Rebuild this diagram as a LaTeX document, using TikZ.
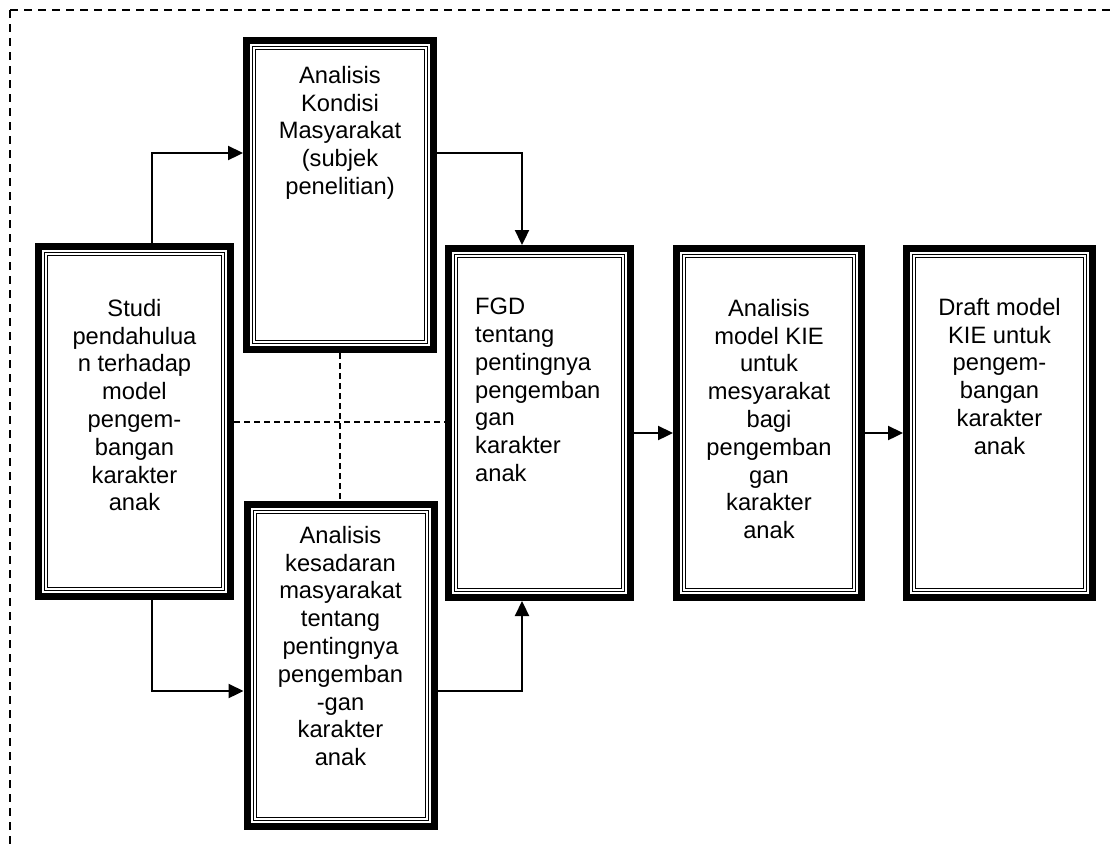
\documentclass[tikz,border=0pt]{standalone}
\usepackage{fontspec}
\setmainfont{Liberation Sans}
\usepackage{tikz}
\usetikzlibrary{arrows.meta,positioning}

\begin{document}
\begin{tikzpicture}[x=1pt, y=-1pt,
    frame/.style={rectangle, draw, line width=7pt,
        minimum width=187pt, minimum height=350pt, inner sep=0pt,
        path picture={
            \draw[line width=1pt] ([shift={(6pt,-6pt)}]path picture bounding box.north west)
                rectangle ([shift={(-6pt,6pt)}]path picture bounding box.south east);
            \draw[line width=1pt] ([shift={(9pt,-9pt)}]path picture bounding box.north west)
                rectangle ([shift={(-9pt,9pt)}]path picture bounding box.south east);
        }},
    txt/.style={font=\fontsize{23.7}{27.8}\selectfont, align=center, inner sep=0pt, anchor=north},
    arr/.style={line width=2.3pt, -{Triangle[length=15pt, width=14pt]}},
    guide/.style={line width=2pt, dash pattern=on 6pt off 4pt}]

    \useasboundingbox (0,0) rectangle (1113,847);

    \draw[line width=2.5pt, dash pattern=on 8pt off 6pt]
        (10,10) -- (1113,10) (10,10) -- (10,847);

    \node[frame, minimum width=192pt] (studi) at (134.5,421.5) {};
    \node[frame, minimum height=309pt] (kondisi) at (340,195) {};
    \node[frame, minimum height=322pt] (kesadaran) at (340.5,665.5) {};
    \node[frame, minimum width=182pt, minimum height=349pt] (fgd) at (539.5,423) {};
    \node[frame, right=39pt of fgd, minimum width=185pt, minimum height=349pt] (kie) {};
    \node[frame, right=38pt of kie, minimum width=186pt, minimum height=349pt] (draft) {};

    \node[txt] (t1) at ([yshift=-56pt]studi.north)
        {Studi\\pendahulua\\n terhadap\\model\\pengem-\\bangan\\karakter\\anak};
    \node[txt] (t2) at ([yshift=-29pt]kondisi.north)
        {Analisis\\Kondisi\\Masyarakat\\(subjek\\penelitian)};
    \node[txt] (t3) at ([yshift=-25pt]kesadaran.north)
        {Analisis\\kesadaran\\masyarakat\\tentang\\pentingnya\\pengemban\\-gan\\karakter\\anak};
    \node[txt, anchor=north west, align=left] (t4) at ([xshift=30pt, yshift=-53pt]fgd.north west)
        {FGD\\tentang\\pentingnya\\pengemban\\gan\\karakter\\anak};
    \node[txt] (t5) at ([yshift=-54pt]kie.north)
        {Analisis\\model KIE\\untuk\\mesyarakat\\bagi\\pengemban\\gan\\karakter\\anak};
    \node[txt] (t6) at ([yshift=-53pt]draft.north)
        {Draft model\\KIE untuk\\pengem-\\bangan\\karakter\\anak};

    \draw[guide] (studi.east) -- (studi.east -| fgd.west);
    \draw[guide] (kondisi.south) -- (kondisi.south |- kesadaran.north);

    \draw[arr] ([xshift=17.5pt]studi.north) |- ([yshift=42pt]kondisi.west);
    \draw[arr] ([xshift=17.5pt]studi.south) |- ([yshift=-25.5pt]kesadaran.west);
    \draw[arr] ([yshift=42pt]kondisi.east) -| ([xshift=-17.5pt]fgd.north);
    \draw[arr] ([yshift=-25.5pt]kesadaran.east) -| ([xshift=-17.5pt]fgd.south);
    \draw[arr] ([yshift=-10pt]fgd.east) -- ([yshift=-10pt]kie.west);
    \draw[arr] ([yshift=-10pt]kie.east) -- ([yshift=-10pt]draft.west);
\end{tikzpicture}
\end{document}
